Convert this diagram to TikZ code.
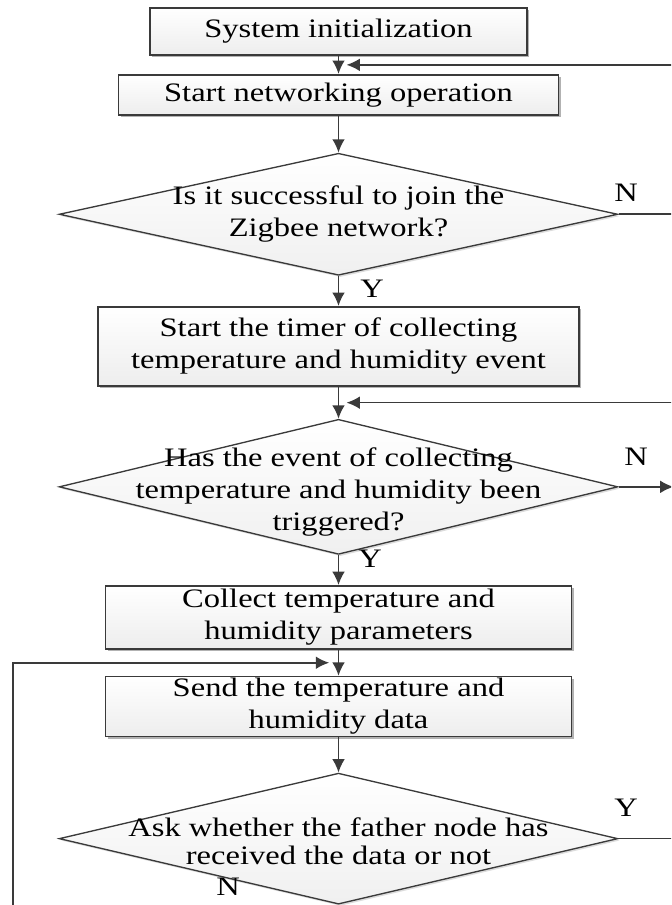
\documentclass[tikz,border=0pt]{standalone}
\usepackage{fontspec}
\setmainfont{Liberation Serif}[FakeStretch=1.22]
\usetikzlibrary{positioning, arrows.meta, shapes.geometric, shadows, calc}
\definecolor{linegray}{HTML}{3A3A3A}

\tikzset{
    process/.style = {draw=linegray, line width=1.3pt,
        rectangle, inner sep=0pt, align=center,
        top color=white, bottom color=gray!14,
        font=\fontsize{20}{24}\selectfont,
        drop shadow={shadow xshift=1.6pt, shadow yshift=-1.6pt,
            fill=gray!60, opacity=1}
    },
    decision/.style = {draw=linegray, line width=1pt,
        diamond, inner sep=0pt, minimum width=419pt,
        top color=white, bottom color=gray!12,
        drop shadow={shadow xshift=1.4pt, shadow yshift=-1.4pt,
            fill=gray!60, opacity=.45}
    },
    inlab/.style = {align=center, inner sep=0pt,
        font=\fontsize{20}{24}\selectfont},
    yn/.style = {inner sep=0pt, font=\fontsize{20}{24}\selectfont},
    flow/.style = {draw=linegray, line width=1.2pt,
        -{Latex[length=10pt, width=9.5pt]}},
    conn/.style = {draw=linegray, line width=1.2pt}
}

\begin{document}
\begin{tikzpicture}[x=0.75pt, y=-0.75pt]
    \useasboundingbox (0,0) rectangle (671,905);
    \clip (0,0) rectangle (671,905);

    % steps
    \node [process,
        minimum width=282.75pt, minimum height=35.25pt
    ] (init) at (338.5,31.5) {System initialization};

    \node [process,
        minimum width=330pt, minimum height=30pt,
        below=13.5pt of init
    ] (netop) {Start networking operation};

    \node [decision,
        minimum height=91.5pt,
        below=27.75pt of netop,
        label={[inlab]center:{Is it successful to join the\\Zigbee network?}}
    ] (join) {};

    \node [process,
        minimum width=360.75pt, minimum height=59.25pt,
        below=22.5pt of join
    ] (timer) {Start the timer of collecting\\temperature and humidity event};

    \node [decision,
        minimum height=101.25pt,
        below=24pt of timer,
        label={[inlab, yshift=-4pt]center:{Has the event of collecting\\temperature and humidity been\\triggered?}}
    ] (trig) {};

    \node [process,
        minimum width=349.5pt, minimum height=47.25pt,
        below=22.5pt of trig
    ] (collect) {Collect temperature and\\humidity parameters};

    \node [process,
        minimum width=349.5pt, minimum height=45pt,
        below=19.5pt of collect
    ] (send) {Send the temperature and\\humidity data};

    \node [decision,
        minimum height=98.25pt,
        below=26.25pt of send,
        label={[inlab, font=\fontsize{20}{21}\selectfont, yshift=-2pt]center:{Ask whether the father node has\\received the data or not}}
    ] (ack) {};

    % Y / N
    \node [yn] (joinN) at (626,193) {N};
    \node [yn] (joinY) at (372,289) {Y};
    \node [yn] (trigN) at (636,457) {N};
    \node [yn] (trigY) at (370,559) {Y};
    \node [yn] (ackY) at (626,808) {Y};
    \node [yn] (ackN) at (228,887) {N};

    % merge points and free ends
    \coordinate (m1) at ($(init.south)!0.5!(netop.north)$);
    \coordinate (m2) at ($(timer.south)!0.5!(trig.north)$);
    \coordinate (m3) at ($(collect.south)!0.5!(send.north)$);
    \coordinate (back1) at ($(m1)+(400,0)$);
    \coordinate (back2) at ($(m2)+(400,0)$);
    \coordinate (joinout) at ($(join.east)+(80,0)$);
    \coordinate (trigout) at ($(trig.east)+(55,0)$);
    \coordinate (ackout) at ($(ack.east)+(80,0)$);
    \coordinate (ackdown) at ($(ack.south)+(0,40)$);
    \coordinate (loopin) at (13,930);

    % arrows
    \draw [flow] (init) -- (netop);
    \draw [flow] (back1) -- ([xshift=6pt]m1);
    \draw [flow] (netop) -- (join);
    \draw [conn] (join.east) -- (joinout);
    \draw [flow] (join) -- (timer);
    \draw [flow] (timer) -- (trig);
    \draw [flow] (back2) -- ([xshift=6pt]m2);
    \draw [flow] (trig.east) -- (trigout);
    \draw [flow] (trig) -- (collect);
    \draw [flow] (collect) -- (send);
    \draw [flow] (loopin) |- ([xshift=-7pt]m3);
    \draw [flow] (send) -- (ack);
    \draw [conn] (ack.east) -- (ackout);
    \draw [conn] (ack.south) -- (ackdown);
\end{tikzpicture}
\end{document}
